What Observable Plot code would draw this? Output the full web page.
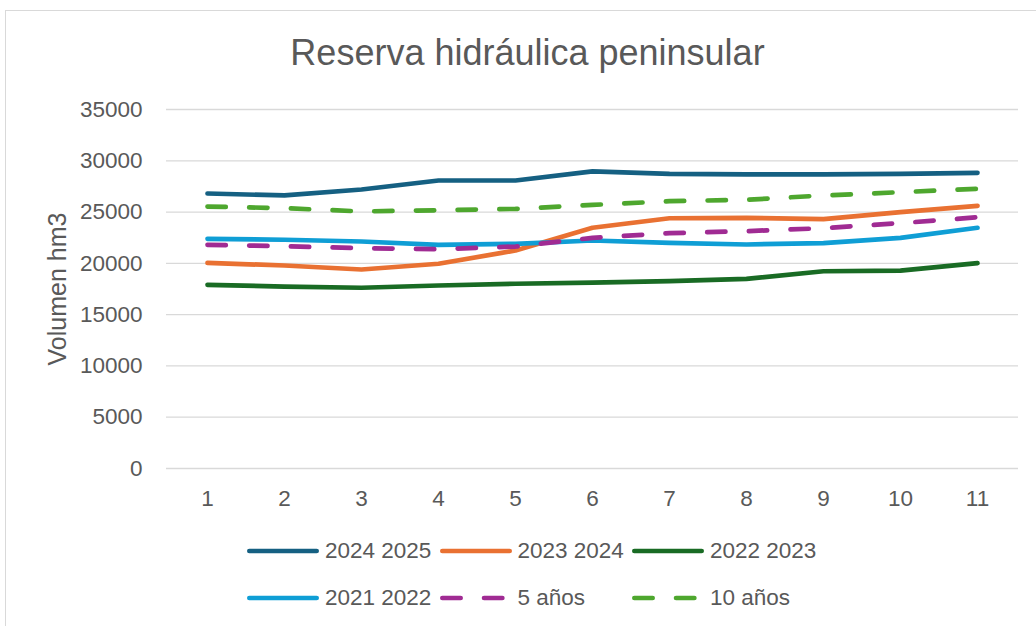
<!DOCTYPE html>
<html>
<head>
<meta charset="utf-8">
<script src="https://cdn.jsdelivr.net/npm/d3@7"></script>
<script src="https://cdn.jsdelivr.net/npm/@observablehq/plot@0.6"></script>
<style>
  html, body { margin: 0; padding: 0; background: #fff; overflow: hidden; }
  body { width: 1036px; height: 626px; position: relative; font-family: "Liberation Sans", Arial, sans-serif; color: #595959; }
  #frame { position: absolute; left: 5px; top: 10px; width: 1100px; height: 700px; border-left: 1.3px solid #d9d9d9; border-top: 1.3px solid #d9d9d9; }
  #title { position: absolute; left: 0; width: 1055px; top: 33px; text-align: center; font-size: 36px; line-height: 40px; color: #595959; }
  #chart { position: absolute; left: 0; top: 80px; }
  #ylabel { position: absolute; left: 57px; top: 289px; transform: translate(-50%, -50%) rotate(-90deg); font-size: 25px; white-space: nowrap; color: #595959; }
  .legrow { position: absolute; left: 247px; display: flex; height: 30px; }
  .legitem { width: 192.5px; height: 30px; display: flex; align-items: center; font-size: 22.5px; white-space: nowrap; }
  .legitem svg { margin-right: 6px; }
</style>
</head>
<body>
<div id="frame"></div>
<div id="title">Reserva hidráulica peninsular</div>
<div id="chart"></div>
<div id="ylabel">Volumen hm3</div>
<div id="legend"></div>
<script>
// Month index (categories)
const meses = [1, 2, 3, 4, 5, 6, 7, 8, 9, 10, 11];
const yTicks = [0, 5000, 10000, 15000, 20000, 25000, 30000, 35000];

// Series values (hm3)
const s2024_2025 = [26810, 26620, 27200, 28080, 28080, 28960, 28730, 28670, 28670, 28730, 28830];
const s2023_2024 = [20050, 19790, 19400, 19960, 21250, 23470, 24400, 24440, 24310, 25000, 25610];
const s2022_2023 = [17910, 17740, 17620, 17840, 18010, 18130, 18260, 18490, 19230, 19300, 20020];
const s2021_2022 = [22390, 22300, 22130, 21800, 21900, 22230, 22000, 21840, 21970, 22490, 23470];
const s5anos     = [21810, 21670, 21480, 21380, 21640, 22490, 22940, 23140, 23430, 23920, 24500];
const s10anos    = [25540, 25380, 25060, 25180, 25310, 25700, 26060, 26200, 26620, 26940, 27270];

const seriesNames = ["2024 2025", "2023 2024", "2022 2023", "2021 2022", "5 años", "10 años"];
const seriesValues = [s2024_2025, s2023_2024, s2022_2023, s2021_2022, s5anos, s10anos];
const seriesColors = ["#156082", "#E97132", "#196B24", "#0F9ED5", "#A02B93", "#4EA72E"];
const seriesDashed = [false, false, false, false, true, true];

const DASH = "18.3,23.4";

const marks = [
  Plot.ruleY(yTicks, {stroke: "#d9d9d9", strokeWidth: 1.3})
];
seriesNames.forEach((name, i) => {
  const data = meses.map((m, j) => ({mes: m, valor: seriesValues[i][j], serie: name}));
  marks.push(Plot.line(data, {
    x: "mes", y: "valor",
    stroke: seriesColors[i],
    strokeWidth: 4.7,
    strokeLinecap: "round",
    strokeLinejoin: "round",
    strokeDasharray: seriesDashed[i] ? DASH : null
  }));
});
marks.push(Plot.axisY({ticks: yTicks, tickSize: 0, tickPadding: 24, fontSize: 22.5, fill: "#595959", label: null, tickFormat: d => String(d)}));
marks.push(Plot.axisX({tickSize: 0, tickPadding: 22, fontSize: 22.5, fill: "#595959", label: null}));

const chart = Plot.plot({
  width: 1036,
  height: 433,
  marginLeft: 166,
  marginRight: 18,
  marginTop: 29,
  marginBottom: 45,
  style: {fontFamily: "Liberation Sans, Arial, sans-serif", background: "transparent", overflow: "visible"},
  x: {type: "point", domain: meses, padding: 0.5},
  y: {domain: [0, 35000]},
  marks
});
document.getElementById("chart").appendChild(chart);

// Legend (HTML, below the SVG)
const legend = document.getElementById("legend");
const rows = [[0, 1, 2], [3, 4, 5]];
const rowCenters = [551, 598];
rows.forEach((idxs, r) => {
  const row = document.createElement("div");
  row.className = "legrow";
  row.style.top = (rowCenters[r] - 15) + "px";
  idxs.forEach(i => {
    const item = document.createElement("div");
    item.className = "legitem";
    const dash = seriesDashed[i] ? `stroke-dasharray="${DASH}"` : "";
    item.innerHTML = `<svg width="72" height="10"><line x1="2.35" y1="5" x2="69.65" y2="5" stroke="${seriesColors[i]}" stroke-width="4.7" stroke-linecap="round" ${dash}/></svg><span>${seriesNames[i]}</span>`;
    row.appendChild(item);
  });
  legend.appendChild(row);
});
</script>
</body>
</html>
